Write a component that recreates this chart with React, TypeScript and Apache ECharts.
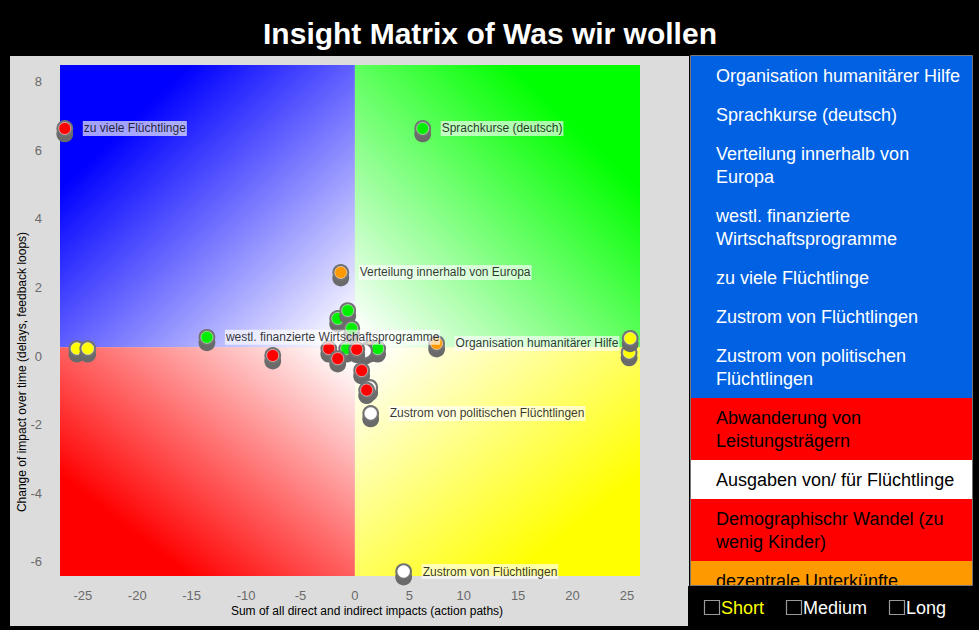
import React, { useEffect, useRef } from 'react';
import * as echarts from 'echarts';

const TITLE = 'Insight Matrix of Was wir wollen';
const X_NAME = 'Sum of all direct and indirect impacts (action paths)';
const Y_NAME = 'Change of impact over time (delays, feedback loops)';

const X_MIN = -27.1;
const X_MAX = 26.2;
const Y_MIN = -6.41;
const Y_MAX = 8.49;
const X_SPLIT = 0;
const Y_SPLIT = 0.26;

// points (drawn in this order)
const POINT_X = [-25.55, -24.55, 25.2, 25.3, -7.55, -1.58, -0.66, -0.29, -26.66, 6.23, -1.3, -13.6, 7.51, 1.45, 4.48,
  -0.75, -2.4, -1.58, 1.36, 2.09, 0.9, 0.17, 0.62, 1.36, 1.08];
const POINT_Y = [0.22, 0.22, 0.11, 0.52, 0.02, 1.1, 1.33, 0.81, 6.64, 6.64, 2.44, 0.55, 0.37, -1.67, -6.28,
  0.22, 0.22, -0.07, 0.22, 0.22, 0.15, 0.2, -0.42, -0.91, -0.99];
const POINT_KIND = ['yellow', 'yellow', 'yellow', 'yellow', 'red', 'green', 'green', 'green', 'red', 'green', 'orange', 'green', 'orange', 'white', 'white',
  'green', 'red', 'red', 'orange', 'green', 'white', 'red', 'red', 'white', 'red'];
const POINT_LABEL = ['', '', '', '', '', '', '', '', 'zu viele Flüchtlinge', 'Sprachkurse (deutsch)', 'Verteilung innerhalb von Europa',
  'westl. finanzierte Wirtschaftsprogramme', 'Organisation humanitärer Hilfe', 'Zustrom von politischen Flüchtlingen', 'Zustrom von Flüchtlingen',
  '', '', '', '', '', '', '', '', '', ''];

// right-hand list
const LIST_ITEMS = [
  'Organisation humanitärer Hilfe',
  'Sprachkurse (deutsch)',
  'Verteilung innerhalb von\nEuropa',
  'westl. finanzierte\nWirtschaftsprogramme',
  'zu viele Flüchtlinge',
  'Zustrom von Flüchtlingen',
  'Zustrom von politischen\nFlüchtlingen',
  'Abwanderung von\nLeistungsträgern',
  'Ausgaben von/ für Flüchtlinge',
  'Demographischr Wandel (zu\nwenig Kinder)',
  'dezentrale Unterkünfte',
];
const LIST_KIND = ['sel', 'sel', 'sel', 'sel', 'sel', 'sel', 'sel', 'red', 'white', 'red', 'orange'];
const FILTERS = ['Short', 'Medium', 'Long'];

const KIND_COLOR: Record<string, string> = {
  red: '#ff0000',
  green: '#00ee00',
  orange: '#ff9900',
  yellow: '#ffff00',
  white: '#ffffff',
};
const LIST_BG: Record<string, string> = { sel: '#0062e3', red: '#ff0000', white: '#ffffff', orange: '#ff9900' };
const LIST_FG: Record<string, string> = { sel: '#ffffff', red: '#000000', white: '#000000', orange: '#000000' };

const FONT = '"Liberation Sans", Arial, Helvetica, sans-serif';

function grad(x: number, y: number, x2: number, y2: number, c: string) {
  return new echarts.graphic.LinearGradient(x, y, x2, y2, [
    { offset: 0, color: c },
    { offset: 0.22, color: c },
    { offset: 0.97, color: '#ffffff' },
    { offset: 1, color: '#ffffff' },
  ]);
}

export default function App() {
  const ref = useRef<HTMLDivElement>(null);
  useEffect(() => {
    if (!ref.current) return;
    const chart = echarts.init(ref.current, undefined, { renderer: 'svg' });

    const graphics: any[] = [];
    graphics.push({ type: 'rect', z: -10, shape: { x: 10, y: 56, width: 679, height: 570 }, style: { fill: '#dcdcdc' }, silent: true });
    graphics.push({
      type: 'text', x: 490, y: 33, silent: true,
      style: { text: TITLE, fill: '#ffffff', font: `bold 30px ${FONT}`, align: 'center', verticalAlign: 'middle' },
    });
    graphics.push({
      type: 'text', x: 367, y: 611, silent: true,
      style: { text: X_NAME, fill: '#000', font: `12px ${FONT}`, align: 'center', verticalAlign: 'middle' },
    });
    graphics.push({
      type: 'text', x: 22, y: 372, rotation: Math.PI / 2, silent: true,
      style: { text: Y_NAME, fill: '#000', font: `12px ${FONT}`, align: 'center', verticalAlign: 'middle' },
    });

    // list panel
    let top = 56;
    LIST_ITEMS.forEach((t, i) => {
      const lines = t.split('\n').length;
      const h = lines === 1 ? 39 : 62;
      const kind = LIST_KIND[i];
      graphics.push({ type: 'rect', shape: { x: 690, y: top, width: 282, height: h }, style: { fill: LIST_BG[kind] }, silent: true });
      graphics.push({
        type: 'text', x: 716, y: top + 8.5, silent: true,
        style: { text: t, fill: LIST_FG[kind], font: `18px ${FONT}`, lineHeight: 23, align: 'left', verticalAlign: 'top' },
      });
      top += h;
    });
    graphics.push({ type: 'rect', shape: { x: 688, y: 586, width: 291, height: 44 }, style: { fill: '#000000' }, silent: true });
    graphics.push({ type: 'rect', shape: { x: 690.5, y: 55.5, width: 282, height: 530 }, style: { fill: 'none', stroke: '#777', lineWidth: 1 }, silent: true });

    const boxX = [704, 786, 889];
    FILTERS.forEach((f, i) => {
      graphics.push({ type: 'rect', shape: { x: boxX[i] + 0.5, y: 600.5, width: 15, height: 14 }, style: { fill: 'none', stroke: '#9a9a9a', lineWidth: 1.2 }, silent: true });
      graphics.push({
        type: 'text', x: boxX[i] + 17, y: 607.5, silent: true,
        style: { text: f, fill: i === 0 ? '#ffff00' : '#ffffff', font: `18px ${FONT}`, align: 'left', verticalAlign: 'middle' },
      });
    });

    const pointData = POINT_X.map((x, i) => [x, POINT_Y[i]]);
    const labelData = POINT_X.map((x, i) => ({ value: [x, POINT_Y[i]], name: POINT_LABEL[i] })).filter((d) => d.name);

    const option: any = {
      animation: false,
      backgroundColor: '#000000',
      grid: { left: 60, right: 339, top: 65, bottom: 54 },
      xAxis: {
        type: 'value', min: X_MIN, max: X_MAX, splitNumber: 10,
        axisLine: { show: false }, axisTick: { show: false }, splitLine: { show: false },
        axisLabel: {
          color: '#6a6a6a', fontSize: 13, fontFamily: FONT, margin: 13,
          showMinLabel: false, showMaxLabel: false,
          formatter: (v: number) => (Math.abs(v / 5 - Math.round(v / 5)) < 1e-6 ? String(Math.round(v)) : ''),
        },
      },
      yAxis: {
        type: 'value', min: Y_MIN, max: Y_MAX, splitNumber: 7,
        axisLine: { show: false }, axisTick: { show: false }, splitLine: { show: false },
        axisLabel: {
          color: '#6a6a6a', fontSize: 13, fontFamily: FONT, margin: 18,
          showMinLabel: false, showMaxLabel: false,
          formatter: (v: number) => (Math.abs(v / 2 - Math.round(v / 2)) < 1e-6 ? String(Math.round(v)) : ''),
        },
      },
      graphic: graphics,
      series: [
        {
          type: 'scatter', z: 1, silent: true, symbolSize: 0, data: [[X_MIN, Y_MIN]],
          markArea: {
            silent: true,
            label: { show: false },
            data: [
              [{ coord: [X_MIN, Y_SPLIT], itemStyle: { color: grad(0, 0, 1, 1, '#0000ff') } }, { coord: [X_SPLIT, Y_MAX] }],
              [{ coord: [X_SPLIT, Y_SPLIT], itemStyle: { color: grad(1, 0, 0, 1, '#00ff00') } }, { coord: [X_MAX, Y_MAX] }],
              [{ coord: [X_MIN, Y_MIN], itemStyle: { color: grad(0, 1, 1, 0, '#ff0000') } }, { coord: [X_SPLIT, Y_SPLIT] }],
              [{ coord: [X_SPLIT, Y_MIN], itemStyle: { color: grad(1, 1, 0, 0, '#ffff00') } }, { coord: [X_MAX, Y_SPLIT] }],
            ],
          },
        },
        {
          type: 'custom', z: 3, silent: true, clip: false,
          data: pointData,
          renderItem: (params: any, api: any) => {
            const p = api.coord([api.value(0), api.value(1)]);
            const c = KIND_COLOR[POINT_KIND[params.dataIndex]];
            return {
              type: 'group',
              children: [
                { type: 'circle', shape: { cx: p[0], cy: p[1] + 5.5, r: 8.4 }, style: { fill: '#6a6a6a' } },
                { type: 'circle', shape: { cx: p[0], cy: p[1], r: 8.4 }, style: { fill: '#727272' } },
                { type: 'circle', shape: { cx: p[0], cy: p[1], r: 6 }, style: { fill: c, stroke: 'rgba(255,255,255,0.5)', lineWidth: 1 } },
              ],
            };
          },
        },
        {
          type: 'scatter', z: 4, silent: true, symbolSize: 16,
          itemStyle: { color: 'rgba(0,0,0,0)' },
          data: labelData,
          label: {
            show: true, position: 'right', distance: 10,
            formatter: (p: any) => p.name,
            color: '#000', fontSize: 12, fontFamily: FONT,
            backgroundColor: 'rgba(255,255,255,0.8)', padding: [2, 1, 1, 1],
          },
        },
      ],
    };
    chart.setOption(option);
    return () => chart.dispose();
  }, []);
  return <div ref={ref} style={{ position: 'absolute', left: 0, top: 0, width: 979, height: 630 }} />;
}
